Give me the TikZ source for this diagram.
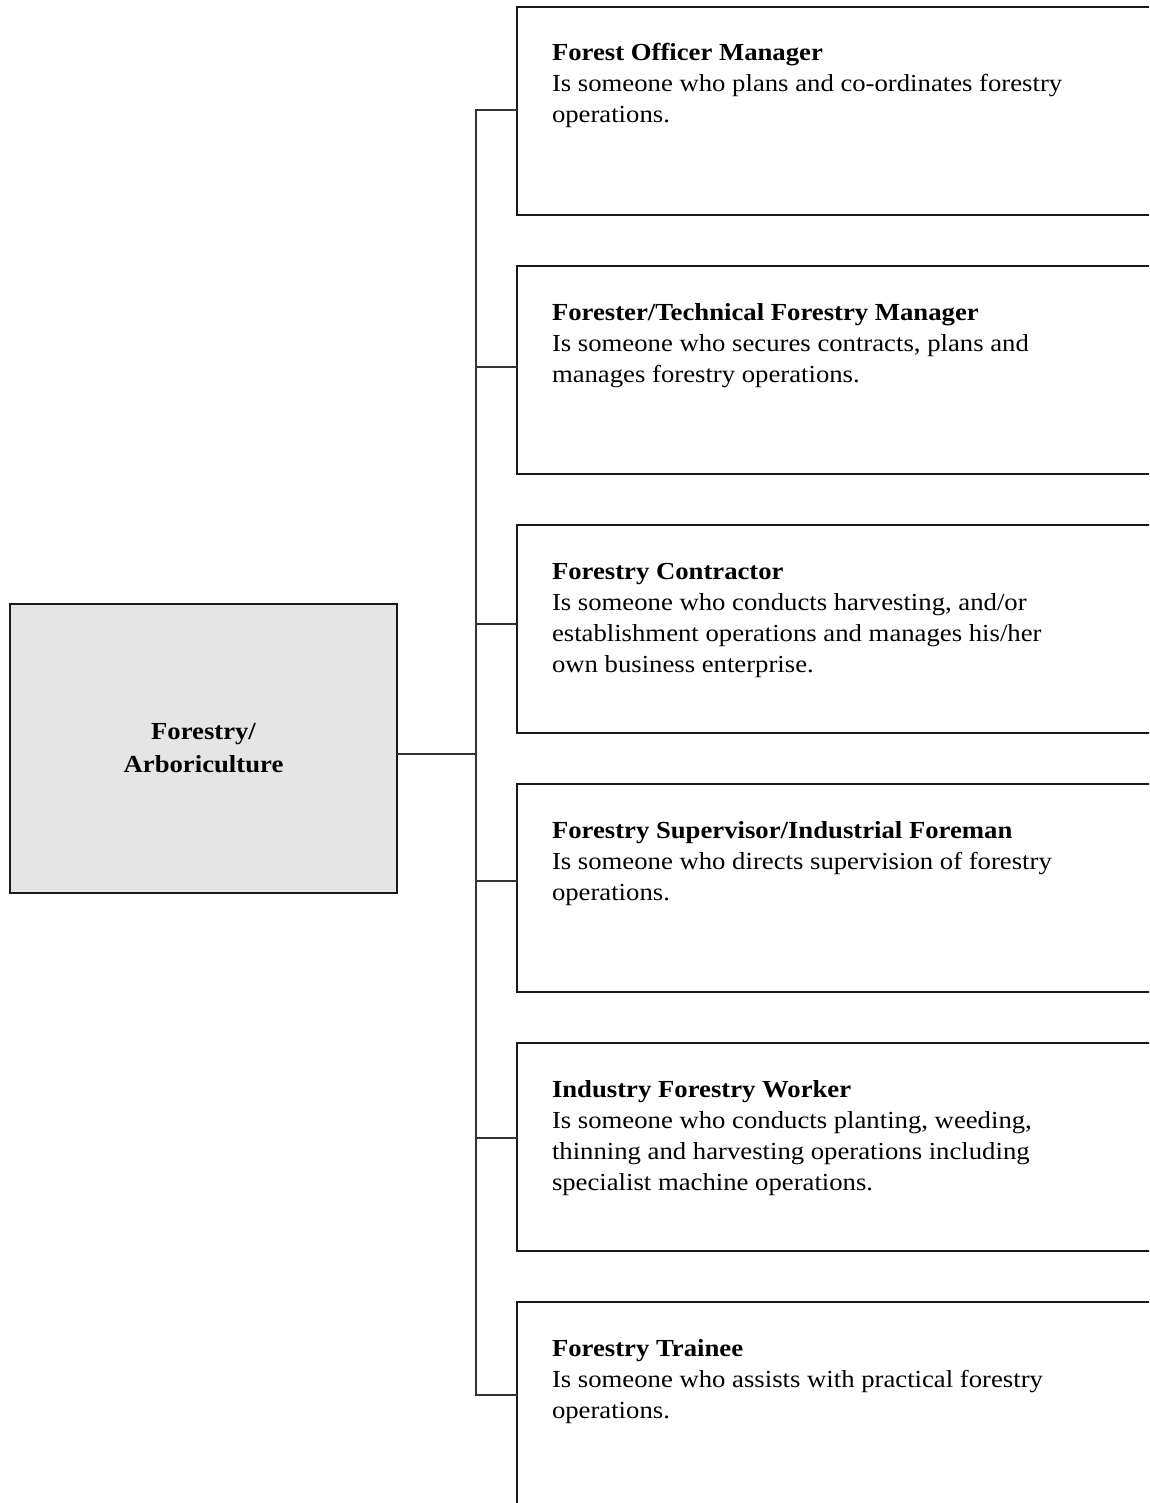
\documentclass[tikz,border=0pt]{standalone}
\usepackage{fontspec}
\setmainfont[FakeStretch=1.09]{Liberation Serif}
\usetikzlibrary{positioning}

% one career box: bold title, then its description
\newcommand{\jobrole}[2]{\parbox[t][148pt][t]{590pt}{\raggedright\rule{0pt}{24pt}\textbf{#1}\\#2}}

\begin{document}
\begin{tikzpicture}[x=1pt,y=-1pt,
  font=\fontsize{24.5}{31}\selectfont,
  rolebox/.style={draw=black!90,line width=2.4pt,anchor=north west,inner xsep=35pt,inner ysep=30pt,outer sep=0pt,minimum height=208pt},
  hubbox/.style={draw=black!90,line width=2.4pt,fill=black!10,minimum width=387pt,minimum height=289pt,align=center,outer sep=0pt,font=\fontsize{24.5}{33}\selectfont\bfseries},
  link/.style={draw=black!80,line width=1.7pt}]

\useasboundingbox (0,0) rectangle (1149,1503);
\clip (0,0) rectangle (1149,1503);

\node[hubbox] (hub) at (203.5,748.5) {Forestry/\\Arboriculture};

\node[rolebox] (r1) at (517,7) {\jobrole{Forest Officer Manager}{Is someone who plans and co-ordinates forestry\\operations.}};
\node[rolebox] (r2) at (517,266) {\jobrole{Forester/Technical Forestry Manager}{Is someone who secures contracts, plans and\\manages forestry operations.}};
\node[rolebox] (r3) at (517,525) {\jobrole{Forestry Contractor}{Is someone who conducts harvesting, and/or\\establishment operations and manages his/her\\own business enterprise.}};
\node[rolebox] (r4) at (517,784) {\jobrole{Forestry Supervisor/Industrial Foreman}{Is someone who directs supervision of forestry\\operations.}};
\node[rolebox] (r5) at (517,1043) {\jobrole{Industry Forestry Worker}{Is someone who conducts planting, weeding,\\thinning and harvesting operations including\\specialist machine operations.}};
\node[rolebox] (r6) at (517,1302) {\jobrole{Forestry Trainee}{Is someone who assists with practical forestry\\operations.}};

% tree connectors
\foreach \i in {1,...,6}
  \coordinate (j\i) at (476,{110+257*(\i-1)});
\coordinate (hubj) at (476,754);

\draw[link] (hub.east |- hubj) -- (hubj);
\draw[link] (r1.west |- j1) -- (j1) -- (j6) -- (r6.west |- j6);
\foreach \i in {2,...,5}
  \draw[link] (j\i) -- (r\i.west |- j\i);

\end{tikzpicture}
\end{document}
